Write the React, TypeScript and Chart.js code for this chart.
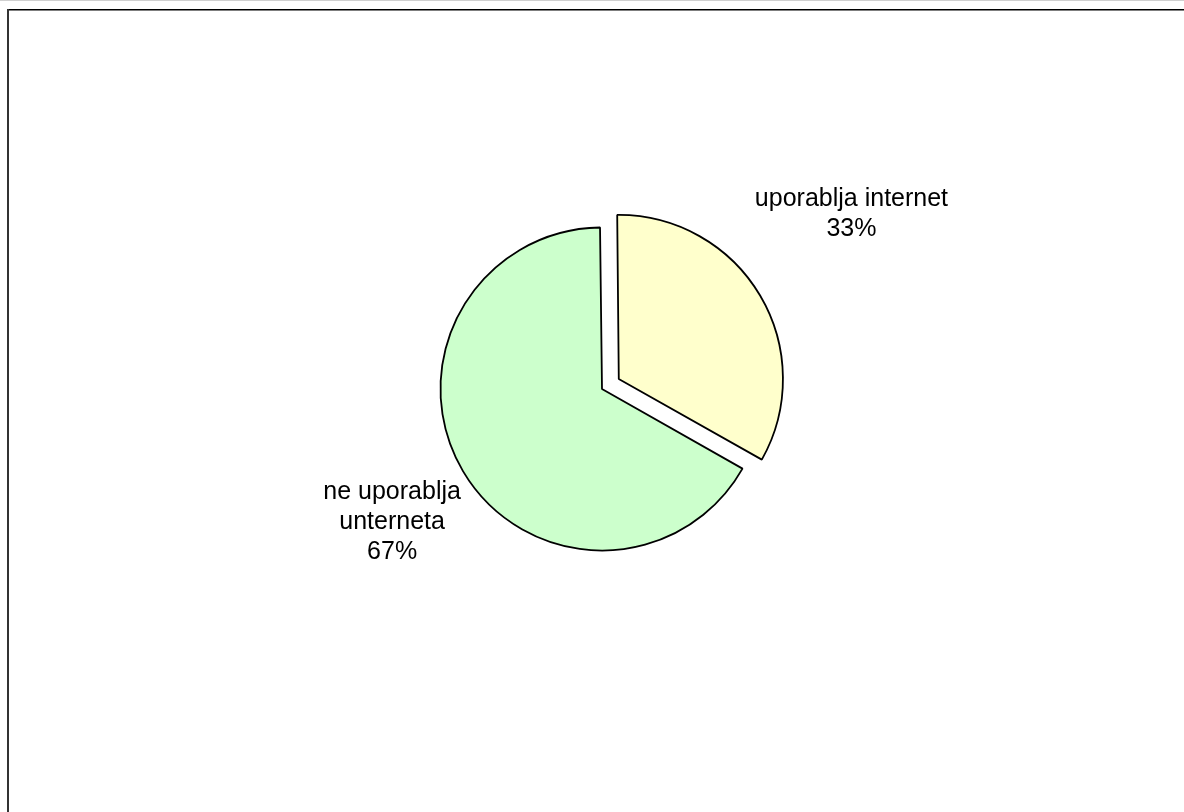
import React, { useEffect, useRef } from "react";
import { Chart, registerables } from "chart.js";

Chart.register(...registerables);

// Data
const categoryLines: string[][] = [["uporablja internet"], ["ne uporablja", "unterneta"]];
const shares: number[] = [33.4, 66.6];
const sliceColors: string[] = ["#FFFFCC", "#CCFFCC"];
const sliceOffsets: number[] = [78, 0];

// Label placement (relative to each slice: radius factor and angle shift in degrees)
const labelRadiusFactor: number[] = [1.767, 1.539];
const labelAngleShift: number[] = [-4.8, -1.8];

const FONT = "25px 'Liberation Sans', Arial, sans-serif";
const LINE_HEIGHT = 30;

const framePlugin = {
  id: "frame",
  beforeDraw(chart: any) {
    const ctx = chart.ctx as CanvasRenderingContext2D;
    ctx.save();
    ctx.fillStyle = "#ffffff";
    ctx.fillRect(0, 0, chart.width, chart.height);
    // faint top line
    ctx.strokeStyle = "#d0d0d0";
    ctx.lineWidth = 1;
    ctx.beginPath();
    ctx.moveTo(0, 0.5);
    ctx.lineTo(chart.width, 0.5);
    ctx.stroke();
    // frame top
    ctx.strokeStyle = "#000000";
    ctx.lineWidth = 1.6;
    ctx.beginPath();
    ctx.moveTo(7, 9.7);
    ctx.lineTo(chart.width, 9.7);
    ctx.stroke();
    // frame left
    ctx.strokeStyle = "#333333";
    ctx.lineWidth = 2;
    ctx.beginPath();
    ctx.moveTo(8, 9);
    ctx.lineTo(8, chart.height);
    ctx.stroke();
    ctx.restore();
  },
};

const labelPlugin = {
  id: "sliceLabels",
  afterDatasetsDraw(chart: any) {
    const ctx = chart.ctx as CanvasRenderingContext2D;
    const meta = chart.getDatasetMeta(0);
    ctx.save();
    ctx.font = FONT;
    ctx.fillStyle = "#000000";
    ctx.textAlign = "center";
    ctx.textBaseline = "middle";
    meta.data.forEach((arc: any, i: number) => {
      const { x, y, startAngle, endAngle, outerRadius } = arc.getProps(
        ["x", "y", "startAngle", "endAngle", "outerRadius"],
        true
      );
      const mid = (startAngle + endAngle) / 2;
      const explode = (sliceOffsets[i] || 0) / 4;
      const cx = x + Math.cos(mid) * explode;
      const cy = y + Math.sin(mid) * explode;
      const a = mid + (labelAngleShift[i] * Math.PI) / 180;
      const r = outerRadius * labelRadiusFactor[i];
      const lx = cx + Math.cos(a) * r;
      const ly = cy + Math.sin(a) * r;
      const lines = [...categoryLines[i], Math.round(shares[i]) + "%"];
      lines.forEach((t, j) => {
        ctx.fillText(t, lx, ly + (j - (lines.length - 1) / 2) * LINE_HEIGHT);
      });
    });
    ctx.restore();
  },
};

export default function App() {
  const ref = useRef<HTMLCanvasElement | null>(null);
  useEffect(() => {
    if (!ref.current) return;
    const chart = new Chart(ref.current, {
      type: "pie",
      data: {
        labels: categoryLines.map((l) => l.join(" ")),
        datasets: [
          {
            data: shares,
            backgroundColor: sliceColors,
            borderColor: "#000000",
            borderWidth: 1.8,
            offset: sliceOffsets,
          } as any,
        ],
      },
      options: {
        animation: false,
        responsive: false,
        rotation: -0.7,
        radius: 161.5,
        layout: { padding: { left: 20, right: 0, top: 0, bottom: 34 } },
        plugins: {
          legend: { display: false },
          tooltip: { enabled: false },
        },
      } as any,
      plugins: [framePlugin, labelPlugin],
    });
    return () => chart.destroy();
  }, []);
  return (
    <div style={{ position: "absolute", left: 0, top: 0, width: 1184, height: 812 }}>
      <canvas ref={ref} width={1184} height={812} style={{ display: "block" }} />
    </div>
  );
}
